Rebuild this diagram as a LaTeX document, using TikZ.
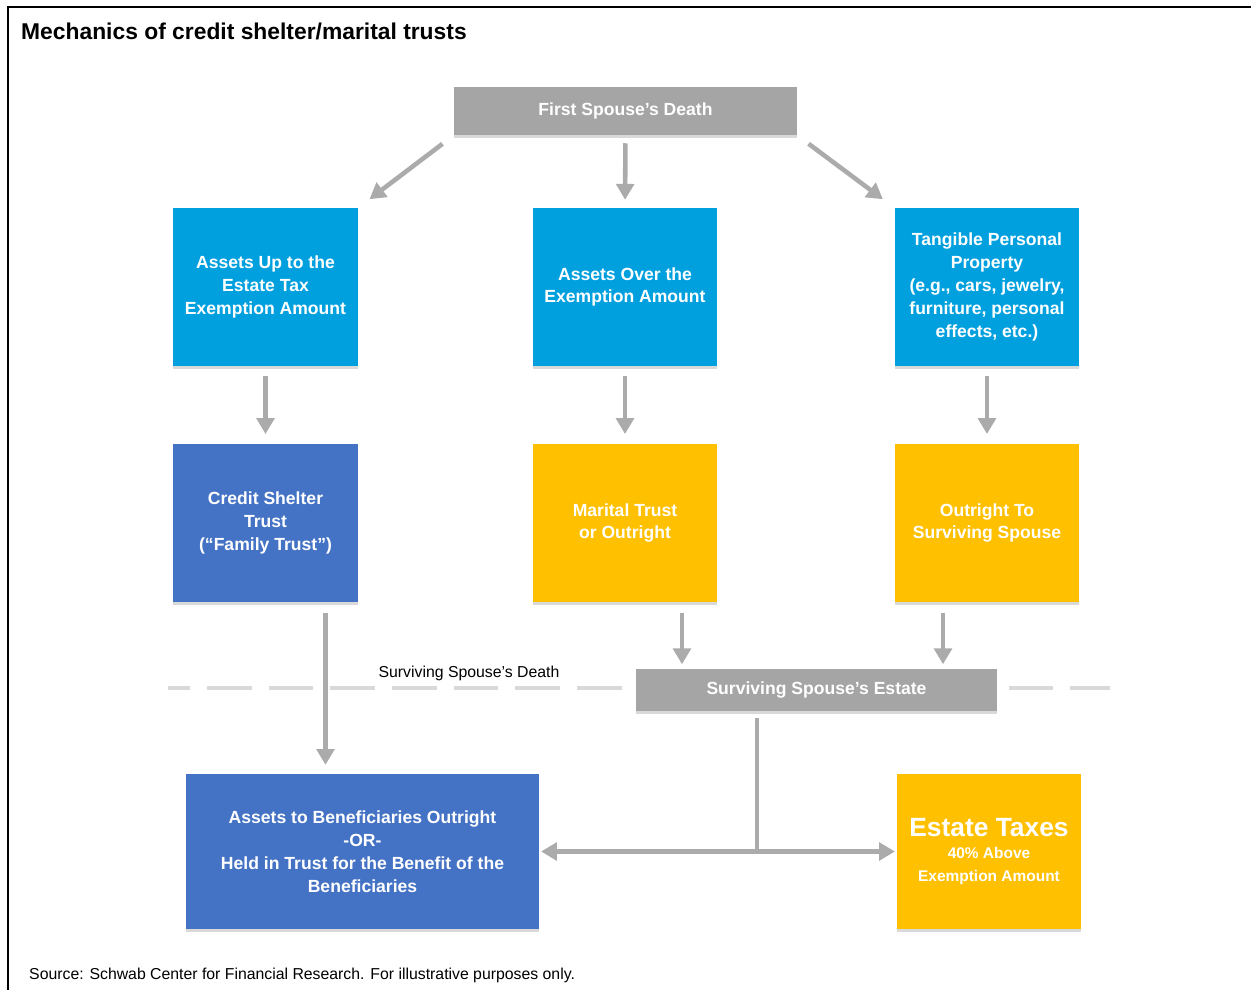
\documentclass[tikz,border=0pt]{standalone}
\usepackage{fontspec}
\setmainfont{Liberation Sans}
\usetikzlibrary{arrows.meta,shadows}

\definecolor{skyblue}{HTML}{00A0DF}
\definecolor{darkblue}{HTML}{4472C4}
\definecolor{gold}{HTML}{FFC000}
\definecolor{boxgray}{HTML}{A5A5A5}
\definecolor{arrowgray}{HTML}{ABABAB}
\definecolor{dashgray}{HTML}{D9D9D9}

\tikzset{
    box/.style={minimum width=3.7cm, minimum height=3.16cm, text=white, align=center,
        inner sep=2pt, font=\bfseries\fontsize{10}{13}\selectfont,
        drop shadow={shadow xshift=0pt, shadow yshift=-1.5pt, fill=black, opacity=0.15}},
    graybox/.style={box, fill=boxgray, minimum height=0.9cm},
    arr/.style={draw=arrowgray, line width=2.6pt, -{Triangle[width=10pt,length=9pt]}},
    link/.style={draw=arrowgray, line width=2.6pt},
}

\begin{document}
\begin{tikzpicture}[x=0.02cm, y=-0.02cm]
    \useasboundingbox (0,0) rectangle (1251,990);

    % Frame and title
    \draw[line width=1.1pt] (8,990) -- (8,7) -- (1251,7);
    \node[anchor=west, font=\bfseries\fontsize{13}{15}\selectfont] (title) at (15,31) {Mechanics of credit shelter/marital trusts};

    % Surviving spouse's death line
    \draw[dashgray, line width=2.8pt, dash pattern=on 25.5pt off 9.6pt, dash phase=13pt] (168,688) -- (1110,688);
    \node[font=\fontsize{9}{11}\selectfont] (deathlbl) at (469,673) {Surviving Spouse's Death};

    % First spouse's death
    \node[graybox, minimum width=6.86cm, minimum height=0.96cm] (first) at (625.5,111) {First Spouse's Death};

    % Row 1 - assets
    \node[box, fill=skyblue] (upto) at (265.5,287) {Assets Up to the\\Estate Tax\\Exemption Amount};
    \node[box, fill=skyblue] (over) at (625,287) {Assets Over the\\Exemption Amount};
    \node[box, fill=skyblue] (tangible) at (987,287) {Tangible Personal\\Property\\(e.g., cars, jewelry,\\furniture, personal\\effects, etc.)};

    % Row 2 - trusts
    \node[box, fill=darkblue] (credit) at (265.5,523) {Credit Shelter\\Trust\\(“Family Trust”)};
    \node[box, fill=gold] (marital) at (625,523) {Marital Trust\\or Outright};
    \node[box, fill=gold] (outright) at (987,523) {Outright To\\Surviving Spouse};

    % Surviving spouse's estate
    \node[graybox, minimum width=7.22cm, minimum height=0.84cm] (estate) at (816.5,690) {Surviving Spouse's Estate};

    % Bottom row
    \node[box, fill=darkblue, minimum width=7.06cm, minimum height=3.1cm] (benef) at (362.5,851.5) {Assets to Beneficiaries Outright\\-OR-\\Held in Trust for the Benefit of the\\Beneficiaries};
    \node[box, fill=gold, minimum width=3.68cm, minimum height=3.1cm] (taxes) at (989,851.5) {\fontsize{15}{18}\selectfont Estate Taxes\\\fontsize{8.8}{11}\selectfont 40\% Above\\\fontsize{8.8}{11}\selectfont Exemption Amount};

    % Arrows from first death
    \draw[arr, shorten <=8pt, shorten >=8pt] (first.south west) -- (upto.north east);
    \draw[arr, shorten <=4.5pt, shorten >=4.5pt] (first.south) -- (over.north);
    \draw[arr, shorten <=8pt, shorten >=8pt] (first.south east) -- (tangible.north west);

    % Arrows row 1 to row 2
    \foreach \a/\b in {upto/credit, over/marital, tangible/outright}
        \draw[arr, shorten <=5.5pt, shorten >=5.5pt] (\a) -- (\b);

    % Into the estate
    \draw[arr, shorten <=6pt, shorten >=2.5pt] ([xshift=1.14cm]marital.south) -- ([xshift=1.14cm]marital.south |- estate.north);
    \draw[arr, shorten <=6pt, shorten >=2.5pt] ([xshift=-0.88cm]outright.south) -- ([xshift=-0.88cm]outright.south |- estate.north);

    % Credit shelter straight to beneficiaries
    \draw[arr, shorten <=6pt, shorten >=5pt] ([xshift=1.2cm]credit.south) -- ([xshift=1.2cm]credit.south |- benef.north);

    % Estate split
    \coordinate (split) at ([xshift=-1.19cm]estate.south |- benef.east);
    \draw[link, shorten <=4pt] ([xshift=-1.19cm]estate.south) -- (split);
    \draw[arr, shorten >=1pt] (split) -- (benef.east);
    \draw[arr, shorten >=1pt] (split) -- (taxes.west);

    % Source
    \node[anchor=west, font=\fontsize{9}{11}\selectfont] (source) at (23,975) {Source: Schwab Center for Financial Research. For illustrative purposes only.};
\end{tikzpicture}
\end{document}
